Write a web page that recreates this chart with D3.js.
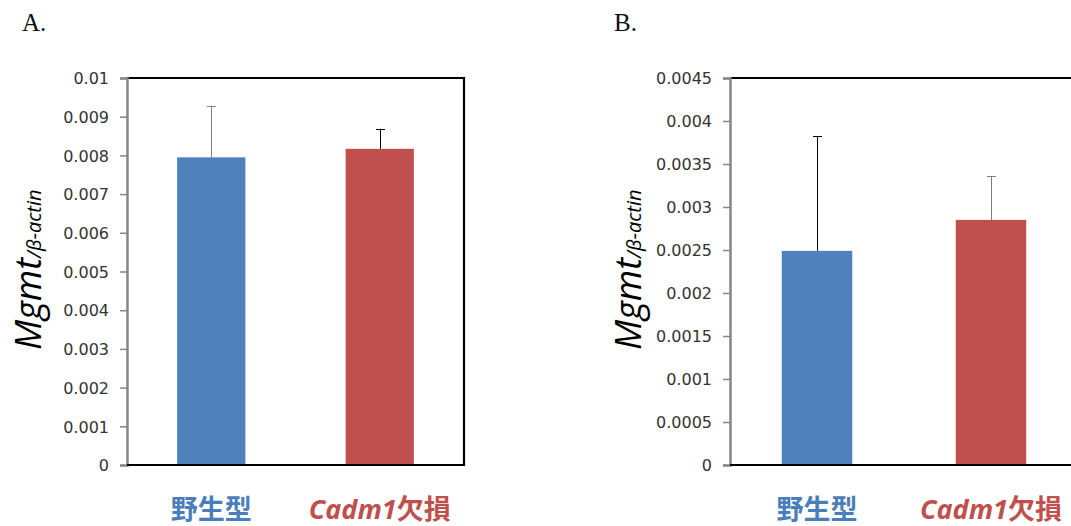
<!DOCTYPE html>
<meta charset="utf-8">
<style>
  body {margin: 0; background: #fff;}
  svg {display: block;}
</style>
<svg id="chart" width="1071" height="526"></svg>
<script src="https://cdn.jsdelivr.net/npm/d3@7"></script>
<script>
  // ---------------------------------------------------------------------------
  // data
  // ---------------------------------------------------------------------------
  const groups = ["野生型", "Cadm1欠損"];
  const colors = ["#4f81bd", "#c0504d"];
  const textColors = ["#4a7ebb", "#c0504d"];

  // panel A
  const meansA = [0.00795, 0.00817];
  const errTopA = [0.00928, 0.00869];
  const ticksA = [0, 0.001, 0.002, 0.003, 0.004, 0.005, 0.006, 0.007, 0.008, 0.009, 0.01];
  const tickLabelsA = ["0", "0.001", "0.002", "0.003", "0.004", "0.005", "0.006", "0.007", "0.008", "0.009", "0.01"];

  // panel B
  const meansB = [0.00249, 0.00285];
  const errTopB = [0.00382, 0.00336];
  const ticksB = [0, 0.0005, 0.001, 0.0015, 0.002, 0.0025, 0.003, 0.0035, 0.004, 0.0045];
  const tickLabelsB = ["0", "0.0005", "0.001", "0.0015", "0.002", "0.0025", "0.003", "0.0035", "0.004", "0.0045"];

  const svg = d3.select("#chart");

  // ---------------------------------------------------------------------------
  // one panel
  // ---------------------------------------------------------------------------
  function drawPanel(p) {
    const g = svg.append("g");
    const top = 78, bottom = 465;

    const x = d3.scaleBand().domain(groups).range([p.left, p.right]).padding(0);
    const y = d3.scaleLinear().domain([0, p.max]).range([bottom, top]);
    const barW = x.bandwidth() * 0.405;
    const cx = d => Math.round(x(d) + x.bandwidth() / 2);

    // panel letter
    g.append("text")
      .attr("x", p.letterX).attr("y", 31)
      .style("font-family", "'Liberation Serif', serif")
      .style("font-size", "25px")
      .attr("fill", "#111")
      .text(p.letter);

    // frame: top, right, bottom black
    g.append("path")
      .attr("d", `M${p.left},${top}H${p.right}V${bottom}H${p.left}`)
      .attr("fill", "none").attr("stroke", "#000").attr("stroke-width", 2.2);

    // bars
    g.selectAll("rect.bar").data(p.means).enter().append("rect")
      .attr("class", "bar")
      .attr("x", (d, i) => x(groups[i]) + x.bandwidth() / 2 - barW / 2)
      .attr("y", d => y(d))
      .attr("width", barW)
      .attr("height", d => bottom - y(d))
      .attr("fill", (d, i) => colors[i]);

    // error bars (upper only)
    const eb = g.selectAll("g.err").data(p.errTop).enter().append("g")
      .attr("class", "err")
      .attr("stroke", (d, i) => p.errColors[i])
      .attr("stroke-width", 1);
    eb.append("line")
      .attr("x1", (d, i) => cx(groups[i]) + 0.5)
      .attr("x2", (d, i) => cx(groups[i]) + 0.5)
      .attr("y1", (d, i) => y(p.means[i]))
      .attr("y2", d => y(d));
    eb.append("line")
      .attr("x1", (d, i) => cx(groups[i]) - 4)
      .attr("x2", (d, i) => cx(groups[i]) + 5)
      .attr("y1", d => Math.round(y(d)) + 0.5)
      .attr("y2", d => Math.round(y(d)) + 0.5);

    // y axis (gray)
    const axis = d3.axisLeft(y)
      .tickValues(p.ticks)
      .tickFormat((d, i) => p.tickLabels[i])
      .tickSize(7).tickPadding(11);
    const ax = g.append("g")
      .attr("transform", `translate(${p.left},0)`)
      .call(axis)
      .attr("font-family", "'DejaVu Sans', sans-serif")
      .attr("font-size", 16);
    ax.select(".domain").attr("stroke", "#868686").attr("stroke-width", 2.5);
    ax.selectAll(".tick line").attr("stroke", "#868686").attr("stroke-width", 1.5);
    ax.selectAll(".tick text").attr("fill", "#333").attr("dy", "0.36em");

    // baseline over axis bottom
    g.append("line")
      .attr("x1", p.left).attr("x2", p.right)
      .attr("y1", bottom).attr("y2", bottom)
      .attr("stroke", "#000").attr("stroke-width", 2.2);

    // y title
    const t = g.append("text")
      .attr("transform", `translate(${p.titleX},${350}) rotate(-90)`)
      .style("font-family", "'Open Sans', 'Noto Sans', sans-serif")
      .style("font-style", "italic")
      .attr("fill", "#000");
    t.append("tspan").style("font-size", "36px").text("Mgmt");
    t.append("tspan").style("font-size", "20px").text("/β-actin");

    // category labels
    const lab = g.selectAll("text.cat").data(groups).enter().append("text")
      .attr("class", "cat")
      .attr("x", d => x(d) + x.bandwidth() / 2)
      .attr("y", 519)
      .attr("text-anchor", "middle")
      .style("font-family", "'Noto Sans CJK JP', sans-serif")
      .style("font-weight", "bold")
      .style("font-size", "27px")
      .attr("fill", (d, i) => textColors[i]);
    lab.filter((d, i) => i === 0).text(d => d);
    const red = lab.filter((d, i) => i === 1);
    red.append("tspan").style("font-family", "'Open Sans', 'Noto Sans', sans-serif")
      .style("font-style", "italic").text("Cadm1");
    red.append("tspan").text("欠損");
  }

  drawPanel({
    letter: "A.", letterX: 22, left: 127, right: 464, max: 0.01, titleX: 41,
    means: meansA, errTop: errTopA, ticks: ticksA, tickLabels: tickLabelsA,
    errColors: ["#7f7f7f", "#000"]
  });
  drawPanel({
    letter: "B.", letterX: 614, left: 730, right: 1078, max: 0.0045, titleX: 641,
    means: meansB, errTop: errTopB, ticks: ticksB, tickLabels: tickLabelsB,
    errColors: ["#000", "#7f7f7f"]
  });
</script>
